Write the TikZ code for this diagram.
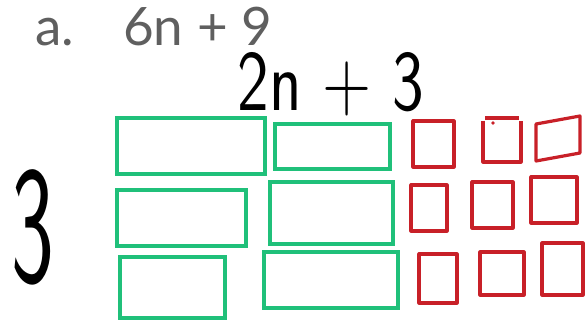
\documentclass[tikz,border=0pt]{standalone}
\usepackage{fontspec}
\setmainfont{Lato}
\newfontfamily\handfont{Latin Modern Sans}
\begin{document}
\begin{tikzpicture}[x=1pt,y=-1pt,
  greenbox/.style={draw=boxgreen,line width=3.2pt},
  redbox/.style={draw=boxred,line width=3.2pt,line join=round},
  title/.style={text=titlegray,font=\fontsize{53}{55}\selectfont,inner sep=0pt,anchor=base west},
  hand/.style={font=\handfont,inner sep=0pt,transform shape}]
\definecolor{boxgreen}{RGB}{32,192,122}
\definecolor{boxred}{RGB}{200,32,40}
\definecolor{titlegray}{RGB}{95,95,95}
\useasboundingbox (0,0) rectangle (585,320);
% title
\node[title] (lbl) at (35,46) {a.};
\node[title] (expr) at (123,46) {6n + 9};
% handwritten labels
\node[hand,font=\handfont\fontsize{64}{64}\selectfont,xscale=1.05,yscale=1.35,anchor=base] (top) at (331,111) {2n + 3};
\node[hand,font=\handfont\fontsize{70}{70}\selectfont,xscale=1.3,yscale=2.4,anchor=center] (side) at (33,227) {3};
% green boxes
\draw[greenbox] (117,118) rectangle (265,174);
\draw[greenbox] (275,124) rectangle (390,169);
\draw[greenbox] (117,190) rectangle (246,246);
\draw[greenbox] (270,182) rectangle (393,244);
\draw[greenbox] (120,257) rectangle (225,318);
\draw[greenbox] (264,252) rectangle (398,308);
% red boxes
\draw[redbox] (413,121) rectangle (454,167);
\draw[redbox] (485,118) -- (519,118);
\draw[redbox] (483,121) -- (483,162) -- (521,162) -- (521,121);
\fill[boxred] (493,123) circle (1.8);
\draw[redbox] (536,124) -- (580,116) -- (580,153) -- (536,161) -- cycle;
\draw[redbox] (411,185) rectangle (447,231);
\draw[redbox] (472,182) rectangle (513,228);
\draw[redbox] (531,177) rectangle (577,223);
\draw[redbox] (419,254) rectangle (457,303);
\draw[redbox] (480,252) rectangle (524,295);
\draw[redbox] (542,243) rectangle (583,295);
\end{tikzpicture}
\end{document}
